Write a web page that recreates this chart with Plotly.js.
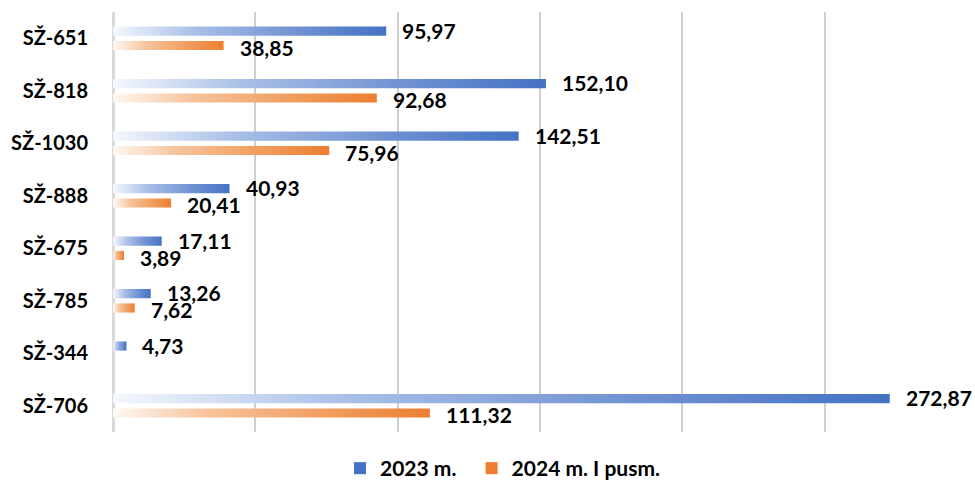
<!DOCTYPE html>
<html>
<head>
<meta charset="utf-8">
<script src="https://cdn.plot.ly/plotly-3.0.1.min.js"></script>
<style>html,body{margin:0;padding:0;background:#fff;}#chart{width:975px;height:483px;}</style>
</head>
<body>
<div id="chart"></div>
<script>
const categories = ["SŽ-651", "SŽ-818", "SŽ-1030", "SŽ-888", "SŽ-675", "SŽ-785", "SŽ-344", "SŽ-706"];
const values2023 = [95.97, 152.10, 142.51, 40.93, 17.11, 13.26, 4.73, 272.87];
const values2024 = [38.85, 92.68, 75.96, 20.41, 3.89, 7.62, null, 111.32];
const seriesNames = ["2023 m.", "2024 m. I pusm."];
const xTicks = [0, 50, 100, 150, 200, 250, 300];

const FONT = "Lato, 'Open Sans', sans-serif";
const blueScale = [[0, "#f5f8fd"], [0.3, "#a9bfe7"], [0.65, "#7394d3"], [1, "#4472c4"]];
const orangeScale = [[0, "#fef8f3"], [0.3, "#f6c39c"], [0.65, "#f1a062"], [1, "#ed7d31"]];

const series = [
  {name: seriesNames[0], vals: values2023, lo: -0.225, hi: -0.05, scale: blueScale, color: "#4472c4", ys: 1, pad: "\u00a0\u00a0"},
  {name: seriesNames[1], vals: values2024, lo: 0.05, hi: 0.225, scale: orangeScale, color: "#ed7d31", ys: -2, pad: ""}
];

const traces = [];
const annotations = [];
series.forEach((s) => {
  s.vals.forEach((v, k) => {
    if (v === null) return;
    traces.push({
      type: "scatter",
      mode: "lines",
      x: [0, v, v, 0, 0],
      y: [k + s.lo, k + s.lo, k + s.hi, k + s.hi, k + s.lo],
      fill: "toself",
      fillcolor: s.color,
      fillgradient: {type: "horizontal", colorscale: s.scale},
      line: {width: 0, color: s.color},
      name: s.name,
      legendgroup: s.name,
      showlegend: false,
      hoverinfo: "skip"
    });
    annotations.push({
      x: v, y: k + (s.lo + s.hi) / 2, xref: "x", yref: "y",
      text: v.toFixed(2).replace(".", ","),
      showarrow: false, xanchor: "left", yanchor: "middle",
      xshift: 14, yshift: s.ys,
      font: {family: FONT, size: 21, color: "#000", weight: "bold"}
    });
  });
});
// legend entries
series.forEach((s) => {
  traces.push({
    type: "bar", orientation: "h", x: [null], y: [null],
    name: s.name + s.pad, legendgroup: s.name, showlegend: true,
    marker: {color: s.color}, hoverinfo: "skip"
  });
});

const layout = {
  width: 975, height: 483,
  margin: {l: 113, r: 8, t: 12, b: 51, autoexpand: false},
  paper_bgcolor: "#fff", plot_bgcolor: "#fff",
  showlegend: true,
  legend: {orientation: "h", x: 340 / 975, xanchor: "left", xref: "container",
           y: 0.03, yanchor: "middle", yref: "container",
           font: {family: FONT, size: 21, color: "#000", weight: "bold"}, traceorder: "normal",
           itemwidth: 30},
  xaxis: {range: [0, 300], tickvals: xTicks, showticklabels: false, showgrid: true,
          gridcolor: "#cfcfcf", gridwidth: 2, zeroline: true, zerolinecolor: "#d9d9d9", zerolinewidth: 3,
          showline: false, fixedrange: true},
  yaxis: {range: [7.5, -0.5], tickvals: categories.map((c, i) => i), ticktext: categories,
          showgrid: false, zeroline: false, showline: false, ticks: "", ticklabelstandoff: 24,
          tickfont: {family: FONT, size: 20, color: "#000", weight: "bold"}, fixedrange: true},
  annotations: annotations,
  font: {family: FONT}
};

Plotly.newPlot("chart", traces, layout, {displayModeBar: false, staticPlot: true});
</script>
</body>
</html>
